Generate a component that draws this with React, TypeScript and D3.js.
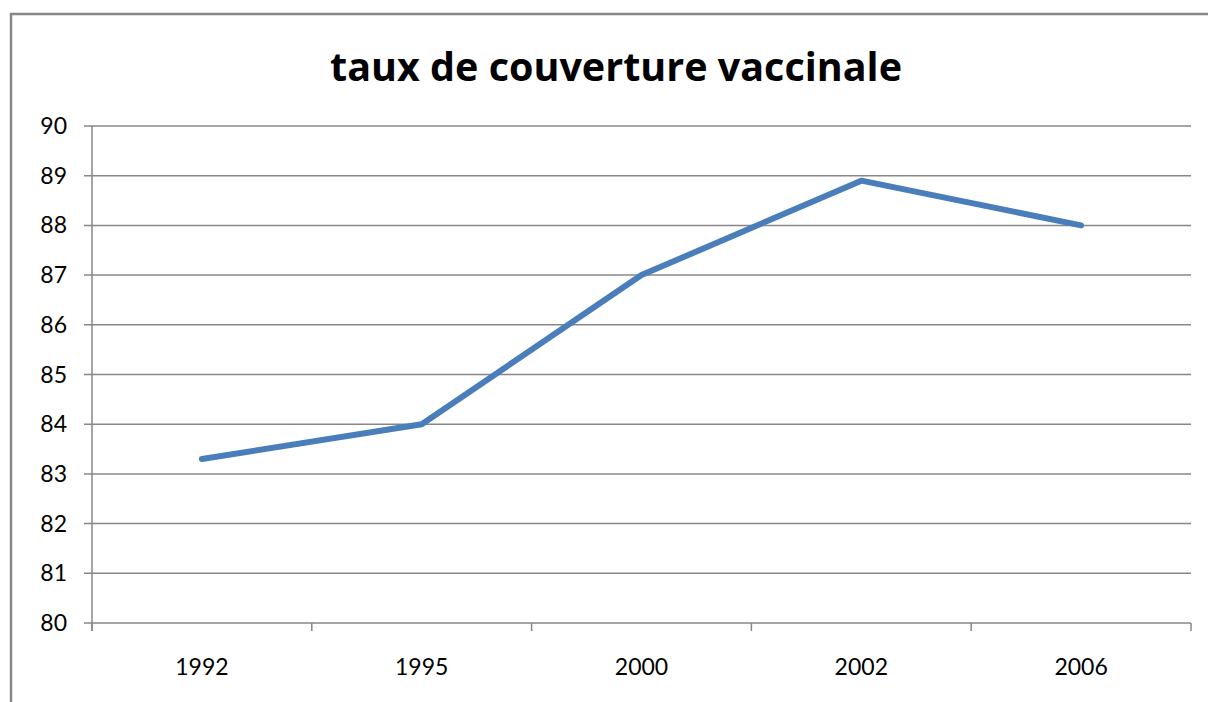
import React from 'react';
import * as d3 from 'd3';

const years = ['1992', '1995', '2000', '2002', '2006'];
const coverage = [83.3, 84.0, 87.0, 88.9, 88.0];
const yTicks = [80, 81, 82, 83, 84, 85, 86, 87, 88, 89, 90];
const title = 'taux de couverture vaccinale';

const W = 1208, H = 702;
const plot = {left: 92, right: 1191, top: 126, bottom: 623};
const grey = '#878787';
const font = 'Lato, "Open Sans", sans-serif';

export default function App() {
    const x = d3.scaleBand<string>()
        .domain(years)
        .range([plot.left, plot.right]);
    const y = d3.scaleLinear()
        .domain([80, 90])
        .range([plot.bottom, plot.top]);

    const line = d3.line<number>()
        .x((d, i) => (x(years[i]) as number) + x.bandwidth() / 2)
        .y(d => y(d));

    // band edges for the x tick marks
    const edges = years.map(c => x(c) as number).concat([plot.right]);

    return (
        <svg width={W} height={H} style={{position: 'absolute', left: 0, top: 0, background: '#fff'}}>
            <rect x={11} y={14} width={W + 20} height={H + 20} fill="#fff" stroke={grey} strokeWidth={2.5} />
            <text x={616} y={81} textAnchor="middle" fontFamily='"Open Sans", sans-serif' fontWeight="bold" fontSize={39.5} fill="#000">
                {title}
            </text>
            {yTicks.map(t => (
                <g key={t}>
                    <line x1={84} x2={plot.right} y1={y(t)} y2={y(t)} stroke={grey} strokeWidth={1.5} />
                    <text x={67} y={y(t)} dy="0.35em" textAnchor="end" fontFamily={font} fontSize={23} fill="#000">{t}</text>
                </g>
            ))}
            <line x1={plot.left} x2={plot.left} y1={plot.top} y2={631} stroke={grey} strokeWidth={1.5} />
            {edges.map((e, i) => (
                <line key={i} x1={e} x2={e} y1={plot.bottom} y2={631} stroke={grey} strokeWidth={1.5} />
            ))}
            {years.map(c => (
                <text key={c} x={(x(c) as number) + x.bandwidth() / 2} y={675} textAnchor="middle"
                      fontFamily={font} fontSize={23} fill="#000">{c}</text>
            ))}
            <path d={line(coverage) || ''} fill="none" stroke="#4a7ebb" strokeWidth={6}
                  strokeLinecap="round" strokeLinejoin="round" />
        </svg>
    );
}
